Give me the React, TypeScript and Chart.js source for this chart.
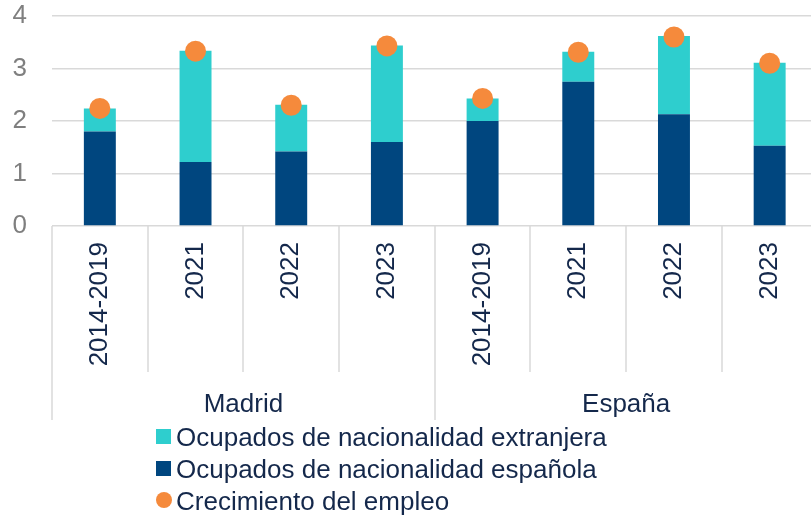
import React, { useEffect, useRef } from 'react';
import { Chart, registerables } from 'chart.js';

Chart.register(...registerables);

// ---- data ----
const categories = ['2014-2019', '2021', '2022', '2023', '2014-2019', '2021', '2022', '2023'];
const groups = ['Madrid', 'España'];
const groupSize = 4;
const espanola = [1.8, 1.22, 1.42, 1.6, 2.0, 2.75, 2.13, 1.53];
const extranjera = [0.44, 2.12, 0.89, 1.84, 0.43, 0.57, 1.49, 1.58];
const crecimiento = [2.24, 3.33, 2.3, 3.43, 2.43, 3.31, 3.6, 3.1];
const yMin = 0;
const yMax = 4;
const yStep = 1;
const seriesNames = [
  'Ocupados de nacionalidad extranjera',
  'Ocupados de nacionalidad española',
  'Crecimiento del empleo',
];

// ---- styles ----
const TEAL = '#2ECECE';
const NAVY_BAR = '#00467F';
const ORANGE = '#F58A3C';
const TEXT = '#14284B';
const GRAY_TEXT = '#7F7F7F';
const GRID = '#D9D9D9';
const FONT_FAMILY = "'Liberation Sans', Arial, sans-serif";
const FONT_SIZE = 26;

const groupPlugin = {
  id: 'groupAxis',
  afterDraw(chart: any) {
    const { ctx, chartArea, scales } = chart;
    const x = scales.x;
    const n = categories.length;
    const p0 = x.getPixelForValue(0);
    const w = x.getPixelForValue(1) - p0;
    ctx.save();
    ctx.strokeStyle = GRID;
    ctx.lineWidth = 1.5;
    for (let i = 0; i <= n; i++) {
      const px = Math.round(p0 - w / 2 + i * w);
      const isGroup = i % groupSize === 0;
      ctx.beginPath();
      ctx.moveTo(px, chartArea.bottom);
      ctx.lineTo(px, chartArea.bottom + (isGroup ? 194 : 146));
      ctx.stroke();
    }
    ctx.fillStyle = TEXT;
    ctx.font = `${FONT_SIZE}px ${FONT_FAMILY}`;
    ctx.textAlign = 'center';
    ctx.textBaseline = 'alphabetic';
    groups.forEach((g, gi) => {
      const c0 = x.getPixelForValue(gi * groupSize);
      const c1 = x.getPixelForValue(gi * groupSize + groupSize - 1);
      ctx.fillText(g, (c0 + c1) / 2, chartArea.bottom + 186);
    });
    ctx.restore();
  },
};

export default function App() {
  const canvasRef = useRef<HTMLCanvasElement>(null);

  useEffect(() => {
    if (!canvasRef.current) return;
    const chart = new Chart(canvasRef.current, {
      type: 'bar',
      data: {
        labels: categories,
        datasets: [
          {
            type: 'line',
            label: seriesNames[2],
            data: crecimiento,
            showLine: false,
            pointRadius: 10.5,
            pointHoverRadius: 10.5,
            pointBackgroundColor: ORANGE,
            pointBorderWidth: 0,
            borderColor: ORANGE,
            backgroundColor: ORANGE,
            order: 0,
          } as any,
          {
            type: 'bar',
            label: seriesNames[1],
            data: espanola,
            backgroundColor: NAVY_BAR,
            borderWidth: 0,
            categoryPercentage: 1,
            barPercentage: 0.334,
            order: 1,
          },
          {
            type: 'bar',
            label: seriesNames[0],
            data: extranjera,
            backgroundColor: TEAL,
            borderWidth: 0,
            categoryPercentage: 1,
            barPercentage: 0.334,
            order: 2,
          },
        ],
      },
      options: {
        responsive: false,
        animation: false,
        devicePixelRatio: 1,
        layout: { padding: { top: 16, right: 2, left: 0, bottom: 0 } },
        plugins: {
          legend: { display: false },
          tooltip: { enabled: false },
        },
        scales: {
          x: {
            stacked: true,
            offset: true,
            grid: { display: false, drawTicks: false },
            border: { display: false },
            ticks: {
              autoSkip: false,
              minRotation: 90,
              maxRotation: 90,
              padding: 16,
              color: TEXT,
              font: { family: FONT_FAMILY, size: FONT_SIZE },
            },
            afterFit(scale: any) {
              scale.height = 290;
              scale.paddingLeft = 0;
              scale.paddingRight = 0;
            },
          },
          y: {
            stacked: true,
            min: yMin,
            max: yMax,
            grid: { color: GRID, lineWidth: 1.5, drawTicks: false },
            border: { display: false },
            ticks: {
              stepSize: yStep,
              padding: 25,
              color: GRAY_TEXT,
              font: { family: FONT_FAMILY, size: FONT_SIZE },
            },
            afterFit(scale: any) {
              scale.width = 52;
              scale.paddingTop = 0;
              scale.paddingBottom = 0;
            },
          },
        },
      },
      plugins: [groupPlugin],
    });
    return () => chart.destroy();
  }, []);

  const legendItems = [
    { name: seriesNames[0], color: TEAL, shape: 'square' },
    { name: seriesNames[1], color: NAVY_BAR, shape: 'square' },
    { name: seriesNames[2], color: ORANGE, shape: 'circle' },
  ];

  return (
    <div
      style={{
        position: 'absolute',
        left: 0,
        top: 0,
        width: 811,
        height: 516,
        overflow: 'hidden',
        background: '#fff',
      }}
    >
      <canvas ref={canvasRef} width={828} height={516} style={{ width: 828, height: 516, display: 'block' }} />
      <div
        style={{
          position: 'absolute',
          left: 156,
          top: 421,
          fontFamily: FONT_FAMILY,
          fontSize: FONT_SIZE,
          color: TEXT,
          lineHeight: '32px',
          whiteSpace: 'nowrap',
        }}
      >
        {legendItems.map((it) => (
          <div key={it.name} style={{ display: 'flex', alignItems: 'center', height: 32 }}>
            <span
              style={{
                display: 'inline-block',
                width: it.shape === 'circle' ? 16 : 15,
                height: it.shape === 'circle' ? 16 : 15,
                borderRadius: it.shape === 'circle' ? '50%' : 0,
                background: it.color,
                marginRight: it.shape === 'circle' ? 4 : 5,
                marginTop: -2,
              }}
            />
            <span>{it.name}</span>
          </div>
        ))}
      </div>
    </div>
  );
}
